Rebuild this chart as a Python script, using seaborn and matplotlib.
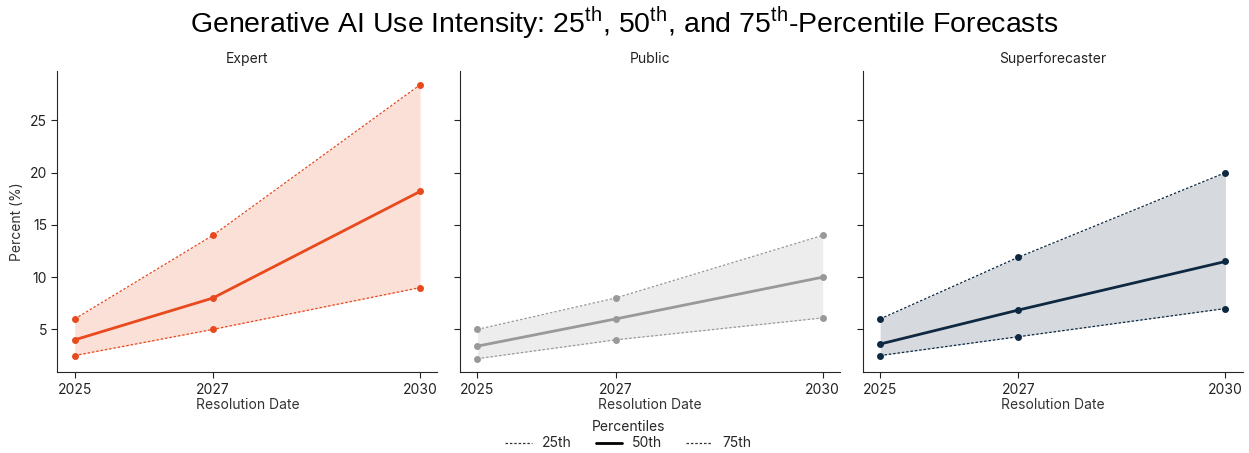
import pandas as pd
import matplotlib.pyplot as plt
import seaborn as sns
from matplotlib.lines import Line2D

years = [2025, 2027, 2030]
groups = ["Expert", "Public", "Superforecaster"]
colors = {"Expert": "#E8491D", "Public": "#999999", "Superforecaster": "#0E2841"}

p25 = {"Expert": [2.5, 5.0, 9.0], "Public": [2.2, 4.0, 6.1], "Superforecaster": [2.5, 4.3, 7.0]}
p50 = {"Expert": [4.0, 8.0, 18.2], "Public": [3.4, 6.0, 10.0], "Superforecaster": [3.6, 6.85, 11.5]}
p75 = {"Expert": [6.0, 14.0, 28.4], "Public": [5.0, 8.0, 14.0], "Superforecaster": [6.0, 11.9, 20.0]}

sns.set_style("ticks")
plt.rcParams["font.family"] = ["Inter", "DejaVu Sans"]
plt.rcParams["mathtext.fontset"] = "custom"
plt.rcParams["mathtext.rm"] = "Liberation Sans"

fig, axes = plt.subplots(1, 3, figsize=(12.49, 4.53), dpi=100, sharey=True)
fig.subplots_adjust(left=0.046, right=0.995, top=0.843, bottom=0.178, wspace=0.06)

for ax, g in zip(axes, groups):
    c = colors[g]
    df = pd.DataFrame({"year": years, "p25": p25[g], "p50": p50[g], "p75": p75[g]})
    ax.fill_between(df["year"], df["p25"], df["p75"], color=c, alpha=0.17, linewidth=0)
    sns.lineplot(data=df, x="year", y="p25", ax=ax, color=c, linestyle=(0, (2, 1.5)),
                 linewidth=0.9, marker="o", markersize=5, markeredgewidth=0)
    sns.lineplot(data=df, x="year", y="p75", ax=ax, color=c, linestyle=(0, (2, 1.5)),
                 linewidth=0.9, marker="o", markersize=5, markeredgewidth=0)
    sns.lineplot(data=df, x="year", y="p50", ax=ax, color=c, linewidth=2,
                 marker="o", markersize=5, markeredgewidth=0)
    ax.set_title(g, fontsize=10, color="#222222")
    ax.set_xticks(years)
    ax.set_xlabel("Resolution Date", fontsize=10, color="#333333", labelpad=1)
    ax.set_ylabel("")
    ax.tick_params(labelsize=10, colors="#222222", length=4)
    sns.despine(ax=ax)

axes[0].set_yticks([5, 10, 15, 20, 25])
axes[0].set_ylabel("Percent (%)", fontsize=10, color="#333333")

handles = [
    Line2D([], [], color="#333333", linestyle=(0, (2, 1.5)), linewidth=0.9),
    Line2D([], [], color="black", linewidth=2),
    Line2D([], [], color="#333333", linestyle=(0, (2, 1.5)), linewidth=0.9),
]
fig.legend(handles, ["25th", "50th", "75th"], title="Percentiles", loc="lower center",
           bbox_to_anchor=(0.503, -0.022), ncol=3, frameon=False, fontsize=10,
           title_fontsize=10, handlelength=1.9, handletextpad=0.7,
           columnspacing=1.75, labelspacing=0.2)

fig.suptitle("Generative AI Use Intensity: 25$^{\\mathrm{th}}$, 50$^{\\mathrm{th}}$, and 75$^{\\mathrm{th}}$-Percentile Forecasts",
             fontsize=20.5, y=0.99, color="black", fontfamily=["Liberation Sans"])

plt.savefig("out.png", dpi=100)
